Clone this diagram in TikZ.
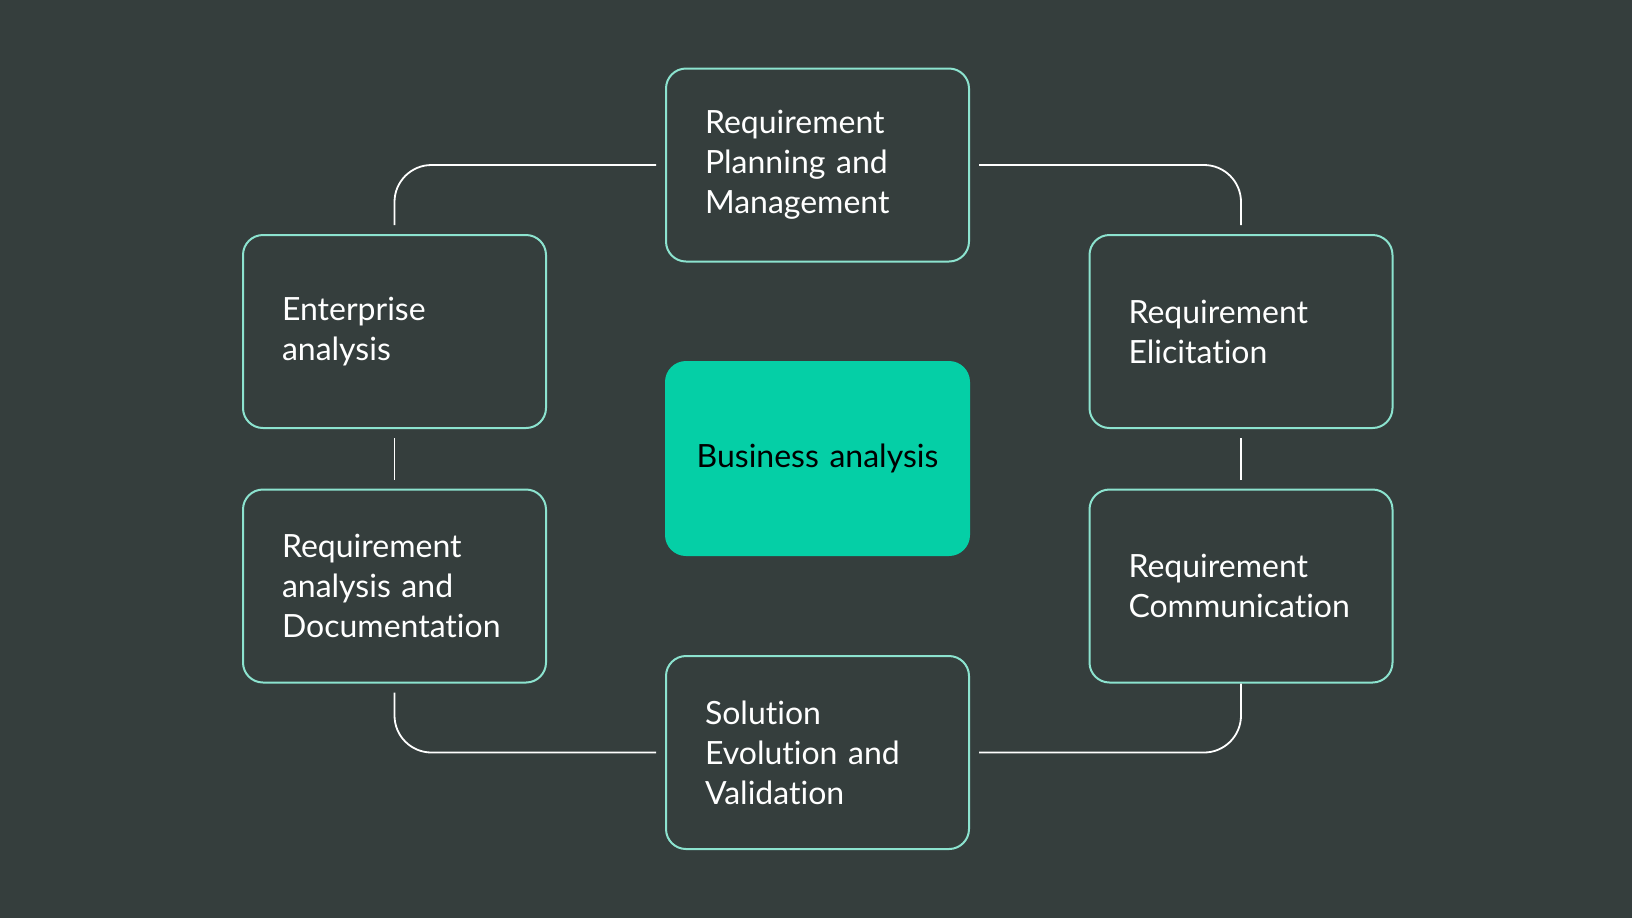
\documentclass[tikz,border=0pt]{standalone}
\usepackage{fontspec}
\setmainfont{Lato}[Ligatures=NoCommon]
\usepackage{tikz}
\usetikzlibrary{arrows}
\definecolor{bgc}{HTML}{353E3D}
\definecolor{mint}{HTML}{8CE3CF}
\definecolor{teal}{HTML}{05CFA6}

\begin{document}
\begin{tikzpicture}[x=0.5pt,y=-0.5pt,line width=1pt]
    \tikzstyle{phase}=[draw=mint, rounded corners=10pt, minimum width=151.5pt, minimum height=96.5pt, text width=112.5pt, inner xsep=19.5pt, align=left, text=white, font=\fontsize{16}{20}\selectfont]
    \tikzstyle{link}=[draw=white, line width=0.9pt, rounded corners=18.5pt, shorten <=4.5pt, shorten >=4.5pt]
    \fill [bgc] (0,0) rectangle (1632,918);
	\node [phase] (plan) at (817.5,165) {Requirement\\ Planning and\\ Management};
	\node [phase] (ent) at (394.5,331.5) {Enterprise\\ analysis};
	\node [phase] (rad) at (394.5,586) {Requirement\\ analysis and\\ Documentation};
	\node [phase] (elic) at (1241,331.5) {Requirement\\ Elicitation};
	\node [phase] (comm) at (1241,586) {Requirement\\ Communication};
	\node [phase] (sol) at (817.5,752.5) {Solution\\ Evolution and\\ Validation};
	\node [phase, fill=teal, draw=teal, text=black, align=center, text width=130pt, inner xsep=10.75pt] (ba) at (817.5,458.5) {Business analysis};
	
	\draw [link] (plan.west) -| (ent.north);
	\draw [link] (plan.east) -| (elic.north);
	\draw [link] (ent.south) -- (rad.north);
	\draw [link] (elic.south) -- (comm.north);
	\draw [link] (rad.south) |- (sol.west);
	\draw [link, shorten <=0pt] (comm.south) |- (sol.east);
\end{tikzpicture}
\end{document}
